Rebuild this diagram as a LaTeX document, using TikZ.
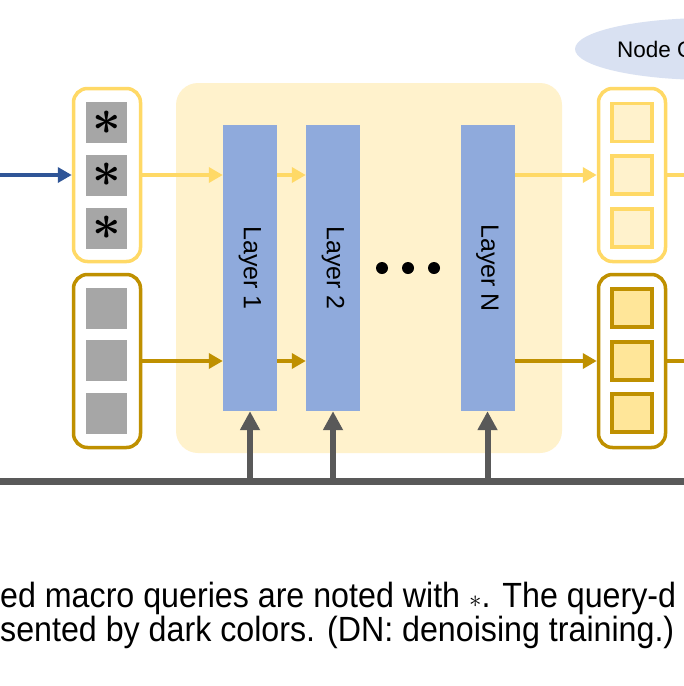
\documentclass[tikz,border=0pt]{standalone}
\usepackage{fontspec}
\setmainfont{Liberation Sans}
\newfontfamily\capfont[FakeStretch=0.92]{Liberation Sans}
\usetikzlibrary{arrows.meta,shapes.geometric}
\definecolor{bgyellow}{HTML}{FFF2CC}
\definecolor{ylw}{HTML}{FFD966}
\definecolor{gold}{HTML}{BF9000}
\definecolor{layerblue}{HTML}{8FAADC}
\definecolor{darkblue}{HTML}{2F5597}
\definecolor{sqgray}{HTML}{A6A6A6}
\definecolor{linegray}{HTML}{595959}
\definecolor{sqdark}{HTML}{FFE699}
\definecolor{ellblue}{HTML}{D9E1F2}
\tikzset{
  bgbox/.style={fill=bgyellow, rounded corners=22pt, minimum width=386pt, minimum height=370pt, inner sep=0pt},
  qboxlight/.style={draw=ylw, line width=3.5pt, rounded corners=14pt, minimum width=67pt, minimum height=173pt, inner sep=0pt},
  qboxdark/.style={draw=gold, line width=3.5pt, rounded corners=14pt, minimum width=67pt, minimum height=173pt, inner sep=0pt},
  graysq/.style={fill=sqgray, minimum width=41pt, minimum height=41pt, inner sep=0pt},
  lightsq/.style={fill=bgyellow, draw=ylw, line width=3.5pt, minimum width=40pt, minimum height=38pt, inner sep=0pt},
  darksq/.style={fill=sqdark, draw=gold, line width=3.5pt, minimum width=40pt, minimum height=38pt, inner sep=0pt},
  layerbox/.style={fill=layerblue, minimum width=54pt, minimum height=286pt, inner sep=0pt, font=\fontsize{25}{25}\selectfont},
  yarrow/.style={draw=ylw, line width=4.5pt, -{Triangle[length=14pt,width=15pt]}},
  garrow/.style={draw=gold, line width=4.5pt, -{Triangle[length=14pt,width=15pt]}},
  barrow/.style={draw=darkblue, line width=4.5pt, -{Triangle[length=14pt,width=15pt]}},
  grayarrow/.style={draw=linegray, line width=6pt, -{Triangle[length=19pt,width=19pt]}},
  grayline/.style={draw=linegray, line width=7pt},
  dotnode/.style={circle, fill=black, minimum size=12pt, inner sep=0pt},
  astx/.style={inner sep=0pt, font=\fontsize{24.88}{25}\selectfont\boldmath},
  captext/.style={anchor=base west, inner sep=0pt, font=\capfont\fontsize{35}{36}\selectfont},
}
\begin{document}
\begin{tikzpicture}[x=1pt,y=-1pt]
\useasboundingbox (0,0) rectangle (684,686);
\fill[white] (0,0) rectangle (684,686);
\clip (0,0) rectangle (684,686);

% ellipse label
\node[ellipse, fill=ellblue, minimum width=270pt, minimum height=62pt, inner sep=0pt] (ell) at (710,49) {};
\node[anchor=base west, inner sep=0pt, font=\fontsize{22.5}{23}\selectfont] (ntext) at (617,57) {Node Queries};

% background block
\node[bgbox] (bg) at (369,268) {};

% left query boxes
\node[qboxlight] (qtl) at (107,175) {};
\node[qboxdark] (qbl) at (107,361) {};
\node[graysq] (s1) at (106.5,122.5) {};
\node[graysq] (s2) at (106.5,175) {};
\node[graysq] (s3) at (106.5,228) {};
\node[astx] (a1) at (s1) {\scalebox{2}{$\ast$}};
\node[astx] (a2) at (s2) {\scalebox{2}{$\ast$}};
\node[astx] (a3) at (s3) {\scalebox{2}{$\ast$}};
\node[graysq] (s4) at (106.5,308) {};
\node[graysq] (s5) at (106.5,360.5) {};
\node[graysq] (s6) at (106.5,413) {};

% layers
\node[layerbox] (L1) at (250,268) {\rotatebox{-90}{Layer 1}};
\node[layerbox] (L2) at (333,268) {\rotatebox{-90}{Layer 2}};
\node[layerbox] (LN) at (487.5,268) {\rotatebox{-90}{Layer N}};
\node[dotnode] (d1) at (382,268) {};
\node[dotnode] (d2) at (408,268) {};
\node[dotnode] (d3) at (434,268) {};

% right boxes
\node[qboxlight] (qtr) at (632,175) {};
\node[qboxdark] (qbr) at (632,361) {};
\node[lightsq] (r1) at (632,122.5) {};
\node[lightsq] (r2) at (632,175) {};
\node[lightsq] (r3) at (632,228) {};
\node[darksq] (r4) at (632,308) {};
\node[darksq] (r5) at (632,361) {};
\node[darksq] (r6) at (632,413) {};

% input arrow
\coordinate (inB) at (-10,175);
\draw[barrow] (inB) -- (qtl.west);

% yellow flow
\draw[yarrow] (qtl.east) -- (qtl.east -| L1.west);
\draw[yarrow] (qtl.east -| L1.east) -- (qtl.east -| L2.west);
\draw[yarrow] (qtl.east -| LN.east) -- (qtr.west);
\coordinate (outT) at (710,175);
\draw[yarrow] (qtr.east) -- (outT);

% gold flow
\draw[garrow] (qbl.east) -- (qbl.east -| L1.west);
\draw[garrow] (qbl.east -| L1.east) -- (qbl.east -| L2.west);
\draw[garrow] (qbl.east -| LN.east) -- (qbr.west);
\coordinate (outB) at (710,361);
\draw[garrow] (qbr.east) -- (outB);

% bottom gray line and arrows
\coordinate (gl) at (-10,481);
\coordinate (gr) at (700,481);
\draw[grayline] (gl) -- (gr);
\coordinate (b1) at (250,481);
\coordinate (b2) at (333,481);
\coordinate (b3) at (487.5,481);
\draw[grayarrow] (b1) -- (L1.south);
\draw[grayarrow] (b2) -- (L2.south);
\draw[grayarrow] (b3) -- (LN.south);

% caption
\node[captext] (c1) at (0,607) {ed macro queries are noted with $\ast$. The query-d};
\node[captext] (c2) at (0,641) {sented by dark colors. (DN: denoising training.)};
\end{tikzpicture}
\end{document}
